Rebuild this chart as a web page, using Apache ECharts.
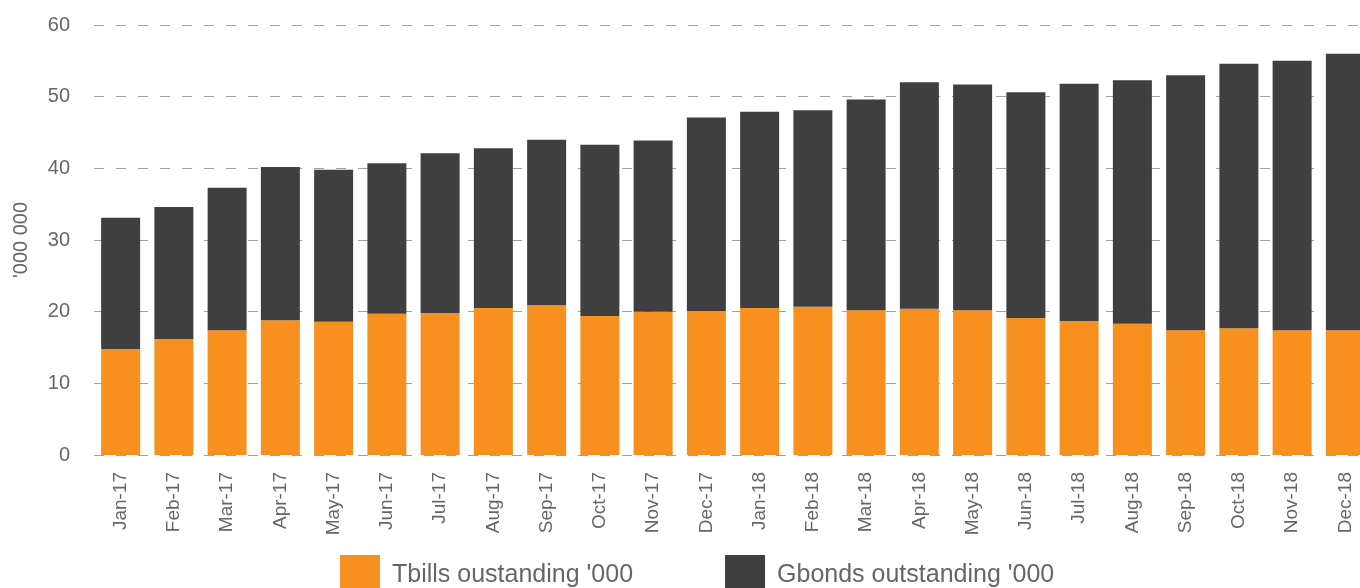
<!DOCTYPE html>
<html>
<head>
<meta charset="utf-8">
<script src="https://cdn.jsdelivr.net/npm/echarts@6/dist/echarts.min.js"></script>
<style>
  html, body { margin: 0; padding: 0; background: #fff; }
  #chart { width: 1360px; height: 588px; }
</style>
</head>
<body>
<div id="chart"></div>
<script>
// months on the x axis
const months = ['Jan-17', 'Feb-17', 'Mar-17', 'Apr-17', 'May-17', 'Jun-17', 'Jul-17', 'Aug-17',
  'Sep-17', 'Oct-17', 'Nov-17', 'Dec-17', 'Jan-18', 'Feb-18', 'Mar-18', 'Apr-18',
  'May-18', 'Jun-18', 'Jul-18', 'Aug-18', 'Sep-18', 'Oct-18', 'Nov-18', 'Dec-18'];

// '000 000
const tbills = [14.8, 16.2, 17.4, 18.8, 18.6, 19.7, 19.8, 20.5, 20.9, 19.4, 20.0, 20.1,
  20.5, 20.7, 20.2, 20.4, 20.2, 19.1, 18.7, 18.3, 17.4, 17.7, 17.4, 17.4];
const gbonds = [18.3, 18.4, 19.9, 21.4, 21.2, 21.0, 22.3, 22.3, 23.1, 23.9, 23.9, 27.0,
  27.4, 27.4, 29.4, 31.6, 31.5, 31.5, 33.1, 34.0, 35.6, 36.9, 37.6, 38.6];

const yTicks = [0, 10, 20, 30, 40, 50, 60];

const font = '"Liberation Sans", Arial, Helvetica, sans-serif';
const chart = echarts.init(document.getElementById('chart'));

chart.setOption({
  animation: false,
  textStyle: { fontFamily: font },
  grid: { left: 94, top: 25, width: 1278, bottom: 133, outerBoundsMode: 'none', containLabel: false },
  legend: {
    left: 340,
    top: 555,
    padding: 0,
    itemWidth: 40,
    itemHeight: 40,
    itemGap: 92,
    icon: 'rect',
    textStyle: { fontSize: 25, color: '#666', fontFamily: font, padding: [0, 0, 0, 7] },
    data: ["Tbills oustanding '000", "Gbonds outstanding '000"]
  },
  xAxis: {
    type: 'category',
    data: months,
    axisLine: { show: false },
    axisTick: { show: false },
    axisLabel: { rotate: 90, fontSize: 19, color: '#666', margin: 17, interval: 0 }
  },
  yAxis: {
    type: 'value',
    min: yTicks[0],
    max: yTicks[yTicks.length - 1],
    interval: 10,
    name: "'000 000",
    nameLocation: 'middle',
    nameGap: 63,
    nameTextStyle: { fontSize: 20, color: '#666' },
    axisLine: { show: false },
    axisTick: { show: false },
    axisLabel: { fontSize: 20, color: '#666', margin: 24 },
    splitLine: { lineStyle: { color: '#a0a0a0', type: [10, 12], width: 1 } }
  },
  series: [
    {
      name: "Tbills oustanding '000",
      type: 'bar',
      stack: 'total',
      barWidth: 39,
      itemStyle: { color: '#F7901E' },
      data: tbills
    },
    {
      name: "Gbonds outstanding '000",
      type: 'bar',
      stack: 'total',
      barWidth: 39,
      itemStyle: { color: '#3F3F3F' },
      data: gbonds
    }
  ]
});
</script>
</body>
</html>
